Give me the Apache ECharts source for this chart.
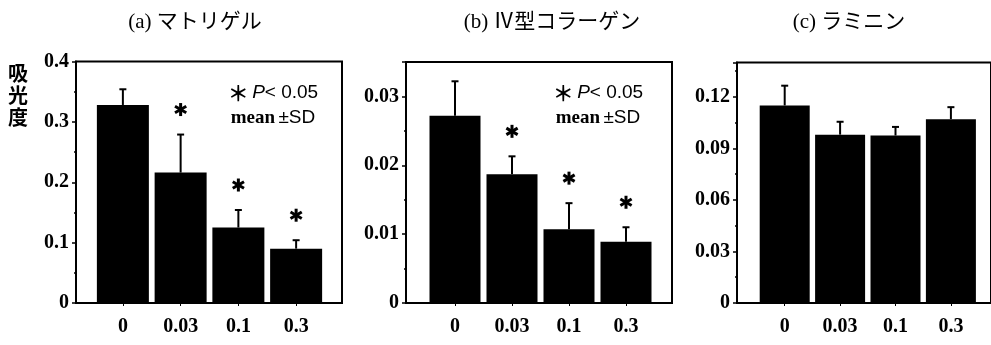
<!DOCTYPE html>
<html>
<head>
<meta charset="utf-8">
<script src="https://cdn.jsdelivr.net/npm/echarts@6/dist/echarts.min.js"></script>
<style>
  html, body { margin: 0; padding: 0; background: #fff; }
  #chart { width: 991px; height: 345px; }
</style>
</head>
<body>
<div id="chart"></div>
<script>
// 濃度（x軸カテゴリ）
const categories = ['0', '0.03', '0.1', '0.3'];

// (a) マトリゲル
const matrigelMean = [0.328, 0.216, 0.125, 0.090];
const matrigelSD = [0.026, 0.063, 0.029, 0.014];
const matrigelSig = [0, 1, 1, 1];

// (b) IV型コラーゲン
const collagenMean = [0.0272, 0.0187, 0.0107, 0.0089];
const collagenSD = [0.0050, 0.0026, 0.0038, 0.0021];
const collagenSig = [0, 1, 1, 1];

// (c) ラミニン
const lamininMean = [0.115, 0.098, 0.0975, 0.107];
const lamininSD = [0.0115, 0.0075, 0.005, 0.007];
const lamininSig = [0, 0, 0, 0];

const SERIF = "'Liberation Serif', 'DejaVu Serif', serif";
const JP = "'Liberation Serif', 'Noto Sans CJK JP', serif";

// パネル配置
const panels = [
  { title: '(a) マトリゲル', titleX: 190, frame: { left: 76, top: 61.5, width: 266, height: 241.5 },
    inner: { left: 94, width: 231 }, max: 0.4, interval: 0.1, barWidth: 52,
    mean: matrigelMean, sd: matrigelSD, sig: matrigelSig },
  { title: '(b) Ⅳ型コラーゲン', titleX: 547, frame: { left: 406, top: 62, width: 266, height: 241 },
    inner: { left: 426.5, width: 228 }, max: 0.035, interval: 0.01, barWidth: 51,
    mean: collagenMean, sd: collagenSD, sig: collagenSig },
  { title: '(c) ラミニン', titleX: 844, frame: { left: 737, top: 62.5, width: 270, height: 240.5 },
    inner: { left: 757, width: 221.6 }, max: 0.14, interval: 0.03, barWidth: 50,
    mean: lamininMean, sd: lamininSD, sig: lamininSig },
];

function errorItem(params, api) {
  const i = api.value(0);
  const base = api.coord([i, api.value(1)]);
  const top = api.coord([i, api.value(1) + api.value(2)]);
  const style = { stroke: '#000', lineWidth: 2 };
  const children = [
    { type: 'line', shape: { x1: base[0], y1: base[1], x2: top[0], y2: top[1] }, style: style },
    { type: 'line', shape: { x1: top[0] - 3.5, y1: top[1], x2: top[0] + 3.5, y2: top[1] }, style: style },
  ];
  if (api.value(3)) {
    const cx = top[0], cy = top[1] - 25, r = 6.5;
    const dx = r * Math.cos(Math.PI / 6), dy = r * Math.sin(Math.PI / 6);
    const s = { stroke: '#000', lineWidth: 3 };
    children.push(
      { type: 'line', shape: { x1: cx, y1: cy - r, x2: cx, y2: cy + r }, style: s },
      { type: 'line', shape: { x1: cx - dx, y1: cy - dy, x2: cx + dx, y2: cy + dy }, style: s },
      { type: 'line', shape: { x1: cx - dx, y1: cy + dy, x2: cx + dx, y2: cy - dy }, style: s }
    );
  }
  return { type: 'group', children: children };
}

const grid = [], xAxis = [], yAxis = [], series = [], title = [];
panels.forEach((p, k) => {
  const f = k * 2, n = k * 2 + 1;
  grid.push({ left: p.frame.left, top: p.frame.top, width: p.frame.width, height: p.frame.height,
    show: true, borderColor: '#000', borderWidth: 2, backgroundColor: 'transparent' });
  grid.push({ left: p.inner.left, top: p.frame.top, width: p.inner.width, height: p.frame.height });

  // 枠のグリッド（y軸目盛）
  xAxis.push({ gridIndex: f, type: 'value', show: false });
  yAxis.push({
    gridIndex: f, type: 'value', min: 0, max: p.max, interval: p.interval,
    axisLine: { show: true, lineStyle: { color: '#000', width: 2 } },
    axisTick: { show: true, length: 4, lineStyle: { color: '#000', width: 1.5 } },
    minorTick: { show: true, splitNumber: 2, length: 2, lineStyle: { color: '#000', width: 1.5 } },
    splitLine: { show: false },
    axisLabel: { color: '#000', fontFamily: SERIF, fontWeight: 'bold', fontSize: 20, margin: 7,
      showMaxLabel: k === 0,
      formatter: v => (v === 0 ? '0' : String(+v.toFixed(3))) },
  });

  // 棒のグリッド
  xAxis.push({
    gridIndex: n, type: 'category', data: categories,
    axisLine: { show: false },
    axisTick: { show: true, alignWithLabel: true, length: 3, lineStyle: { color: '#000', width: 1 } },
    axisLabel: { color: '#000', fontFamily: SERIF, fontWeight: 'bold', fontSize: 20, margin: 14 },
  });
  yAxis.push({ gridIndex: n, type: 'value', min: 0, max: p.max, show: false, splitLine: { show: false } });

  series.push({
    type: 'bar', xAxisIndex: n, yAxisIndex: n, data: p.mean, barWidth: p.barWidth,
    itemStyle: { color: '#000' }, silent: true,
  });
  series.push({
    type: 'custom', xAxisIndex: n, yAxisIndex: n, renderItem: errorItem, z: 5, silent: true,
    data: p.mean.map((m, i) => [i, m, p.sd[i], p.sig[i]]),
  });

  title.push({ text: p.title, left: p.titleX, top: 7, textAlign: 'center',
    textStyle: { fontFamily: JP, fontWeight: 'normal', fontSize: 21, color: '#000' } });
});

const noteRich = {
  a: { fontFamily: 'Noto Sans CJK JP', fontSize: 21, fontWeight: 'bold', fill: '#000' },
  p: { fontFamily: "'Liberation Sans', sans-serif", fontSize: 19, fontStyle: 'italic', fill: '#000' },
  t: { fontFamily: "'Liberation Sans', sans-serif", fontSize: 19, fill: '#000' },
  m: { fontFamily: SERIF, fontSize: 19, fontWeight: 'bold', fill: '#000' },
};

function note(cx) {
  return [
    { type: 'text', x: cx, y: 93,
      style: { text: '{a|＊} {p|P}{t|< 0.05}', rich: noteRich, align: 'center', verticalAlign: 'middle' } },
    { type: 'text', x: cx, y: 118,
      style: { text: '{m|mean} {t|±SD}', rich: noteRich, align: 'center', verticalAlign: 'middle' } },
  ];
}

const option = {
  animation: false,
  title: title,
  grid: grid,
  xAxis: xAxis,
  yAxis: yAxis,
  series: series,
  graphic: [
    { type: 'text', left: 8, top: 62,
      style: { text: '吸\n光\n度', fontFamily: 'Noto Sans CJK JP', fontWeight: 'bold',
        fontSize: 20, lineHeight: 22, fill: '#000' } },
  ].concat(note(273), note(598)),
};

const chart = echarts.init(document.getElementById('chart'));
chart.setOption(option);
</script>
</body>
</html>
